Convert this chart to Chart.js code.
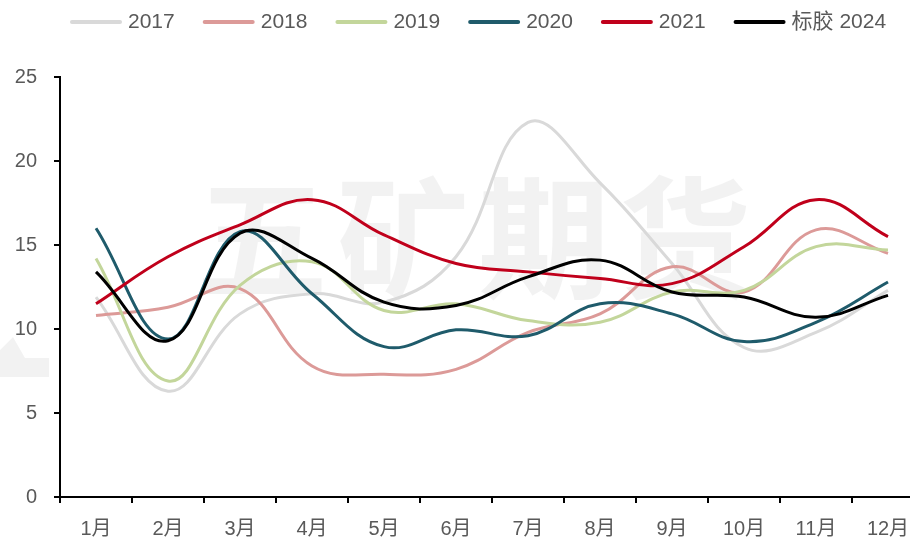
<!DOCTYPE html>
<html>
<head>
<meta charset="utf-8">
<script src="https://cdn.jsdelivr.net/npm/chart.js@4/dist/chart.umd.min.js"></script>
<style>
  html, body { margin: 0; padding: 0; background: #fff; overflow: hidden; }
  #wrap { width: 924px; height: 540px; }
</style>
</head>
<body>
<div id="wrap"><canvas id="chart" width="924" height="540"></canvas></div>
<script>
// 月份與各年度數值
const months = ['1月', '2月', '3月', '4月', '5月', '6月', '7月', '8月', '9月', '10月', '11月', '12月'];
const seriesNames = ['2017', '2018', '2019', '2020', '2021', '标胶 2024'];
const v2017 = [11.9, 6.3, 10.9, 12.1, 11.6, 14.3, 22.3, 18.7, 13.9, 8.9, 9.8, 12.3];
const v2018 = [10.8, 11.3, 12.4, 7.8, 7.3, 7.6, 9.8, 10.9, 13.7, 12.2, 15.9, 14.5];
const v2019 = [14.2, 6.9, 12.6, 14.0, 11.1, 11.5, 10.5, 10.4, 12.2, 12.3, 14.9, 14.7];
const v2020 = [16.0, 9.4, 15.8, 12.1, 8.95, 9.95, 9.6, 11.5, 10.9, 9.25, 10.4, 12.8];
const v2021 = [11.5, 14.3, 16.2, 17.7, 15.6, 13.9, 13.4, 13.0, 12.7, 14.9, 17.7, 15.5];
const v2024 = [13.4, 9.3, 15.7, 14.2, 11.6, 11.4, 13.1, 14.1, 12.2, 11.9, 10.7, 12.0];
const yTicks = [0, 5, 10, 15, 20, 25];
const watermark = ['五', '矿', '期', '货'];

const colors = ['#d9d9d9', '#dc9a98', '#c3d69b', '#1f5b6b', '#c0001b', '#000000'];
const allValues = [v2017, v2018, v2019, v2020, v2021, v2024];

const FONT = '"Liberation Sans", "Noto Sans CJK SC", sans-serif';
const TXT = '#595959';

// 浮水印（五矿期货 + 左側 logo 殘影）
const watermarkPlugin = {
  id: 'watermark',
  beforeDatasetsDraw(chart) {
    const ctx = chart.ctx;
    ctx.save();
    ctx.fillStyle = 'rgba(0,0,0,0.05)';
    ctx.font = 'bold 132px "Noto Sans CJK SC"';
    ctx.textBaseline = 'middle';
    ctx.textAlign = 'left';
    watermark.forEach((ch, i) => ctx.fillText(ch, 196 + i * 141, 238));
    ctx.beginPath();
    ctx.moveTo(0, 350);
    ctx.lineTo(13, 337);
    ctx.lineTo(25, 358);
    ctx.lineTo(49, 358);
    ctx.lineTo(49, 377);
    ctx.lineTo(0, 377);
    ctx.closePath();
    ctx.fill();
    ctx.restore();
  }
};

// 自訂圖例（線段 + 文字）
const legendPlugin = {
  id: 'lineLegend',
  afterDraw(chart) {
    const ctx = chart.ctx;
    ctx.save();
    ctx.font = '21px ' + FONT;
    ctx.textBaseline = 'middle';
    let x = 72;
    const y = 22;
    chart.data.datasets.forEach(ds => {
      ctx.strokeStyle = ds.borderColor;
      ctx.lineWidth = 4;
      ctx.lineCap = 'round';
      ctx.beginPath();
      ctx.moveTo(x, y);
      ctx.lineTo(x + 48, y);
      ctx.stroke();
      ctx.fillStyle = TXT;
      ctx.fillText(ds.label, x + 56, y);
      x += 56 + ctx.measureText(ds.label).width + 30;
    });
    ctx.restore();
  }
};

const datasets = seriesNames.map((name, i) => ({
  label: name,
  data: allValues[i],
  borderColor: colors[i],
  backgroundColor: colors[i],
  borderWidth: 3,
  pointRadius: 0,
  tension: 0.4,
  fill: false,
  order: seriesNames.length - i
}));

new Chart(document.getElementById('chart').getContext('2d'), {
  type: 'line',
  data: { labels: months, datasets },
  options: {
    responsive: false,
    animation: false,
    devicePixelRatio: 1,
    layout: { padding: { top: 77, left: 0, right: 0, bottom: 0 } },
    plugins: {
      legend: { display: false },
      tooltip: { enabled: false }
    },
    scales: {
      x: {
        offset: true,
        grid: { offset: true, drawOnChartArea: false, drawTicks: true, tickLength: 6, color: '#000', lineWidth: 2 },
        border: { color: '#000', width: 2 },
        ticks: { color: TXT, font: { size: 20, family: FONT }, padding: 14, maxRotation: 0 },
        afterFit(scale) { scale.height = 43; }
      },
      y: {
        min: 0,
        max: 25,
        afterBuildTicks(scale) { scale.ticks = yTicks.map(v => ({ value: v })); },
        grid: { drawOnChartArea: false, drawTicks: true, tickLength: 6, color: '#000', lineWidth: 2 },
        border: { color: '#000', width: 2 },
        ticks: { color: TXT, font: { size: 20, family: FONT }, padding: 17 },
        afterFit(scale) { scale.width = 60; }
      }
    }
  },
  plugins: [watermarkPlugin, legendPlugin]
});
</script>
</body>
</html>
